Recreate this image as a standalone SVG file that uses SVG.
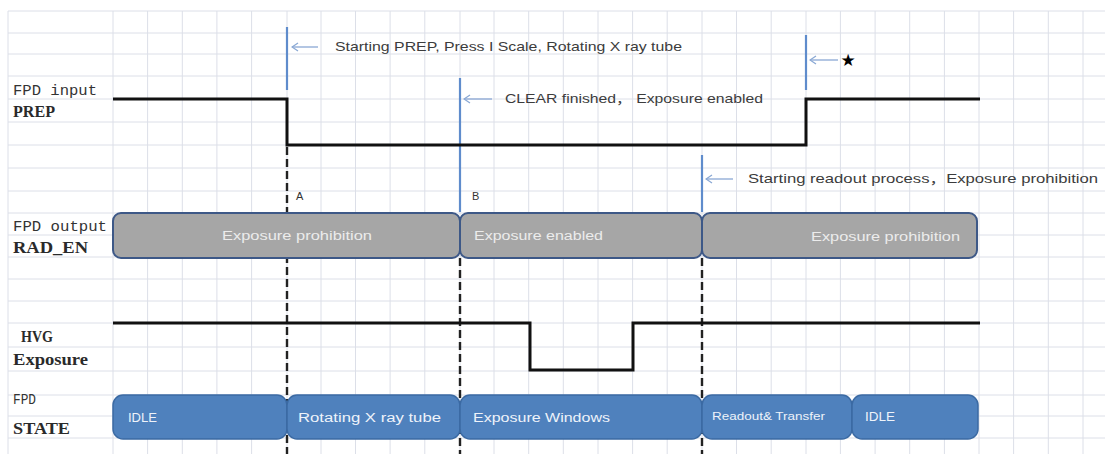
<svg xmlns="http://www.w3.org/2000/svg" width="1105" height="454" viewBox="0 0 1105 454">
<style>
.grid{stroke:#dcdfe8;stroke-width:1;fill:none}
.sig{stroke:#111;stroke-width:3;fill:none;stroke-linejoin:miter}
.mark{stroke:#5f8ccc;stroke-width:2.2;fill:none}
.dash{stroke:#222;stroke-width:2.4;stroke-dasharray:8 4;fill:none}
.arr{stroke:#8aa8d4;stroke-width:1.3;fill:none}
.ann{font-family:"Liberation Sans",Arial,"Noto Sans CJK SC",sans-serif;font-size:13px;fill:#3c3c3c}
.lblm{font-family:"Liberation Mono","Courier New",monospace;font-size:14px;fill:#333}
.lblb{font-family:"Liberation Serif","Times New Roman",serif;font-size:16px;font-weight:bold;fill:#2a2a2a}
.gbox{fill:#a6a6a6;stroke:#3d5887;stroke-width:2}
.bbox{fill:#4f81bd;stroke:#3b6aa3;stroke-width:1.5}
.gtx{font-family:"Liberation Sans",Arial,sans-serif;font-size:12.5px;fill:#ececec}
.btx{font-family:"Liberation Sans",Arial,sans-serif;font-size:12.5px;fill:#eef3fa}
.ltr{font-family:"Liberation Sans",Arial,sans-serif;font-size:11px;fill:#333}
</style>
<defs>
<marker id="ah" markerWidth="10" markerHeight="10" refX="1" refY="5" orient="auto" markerUnits="userSpaceOnUse">
<path d="M7,1 L1,5 L7,9" fill="none" stroke="#8aa8d4" stroke-width="1.3"/>
</marker>
</defs>
<rect x="0" y="0" width="1105" height="454" fill="#ffffff"/>
<g id="grid" class="grid">
<path d="M8,11V454 M113,11V454 M147.6,11V454 M182.3,11V454 M216.9,11V454 M251.6,11V454 M287,11V454 M321,11V454 M355.5,11V454 M390.1,11V454 M424.8,11V454 M460,11V454 M494,11V454 M528.7,11V454 M563.3,11V454 M598,11V454 M632.6,11V454 M667.2,11V454 M702,11V454 M736.5,11V454 M771.2,11V454 M806,11V454 M840.4,11V454 M875.1,11V454 M909.7,11V454 M944.4,11V454 M979,11V454 M1013.6,11V454 M1048.3,11V454 M1083,11V454"/>
<path d="M8,11H1105 M8,33H1105 M8,54H1105 M8,76H1105 M8,99H1105 M8,122H1105 M8,145H1105 M8,168H1105 M8,191H1105 M8,213H1105 M8,235H1105 M8,257H1105 M8,279H1105 M8,301H1105 M8,323H1105 M8,347H1105 M8,371H1105 M8,395H1105 M8,416H1105 M8,438H1105"/>
</g>
<g id="labels">
<text class="lblm" x="13" y="95" textLength="84" lengthAdjust="spacingAndGlyphs">FPD input</text>
<text class="lblb" x="13" y="117" textLength="42" lengthAdjust="spacingAndGlyphs">PREP</text>
<text class="lblm" x="13" y="231" textLength="94" lengthAdjust="spacingAndGlyphs">FPD output</text>
<text class="lblb" x="13" y="253" textLength="75" lengthAdjust="spacingAndGlyphs">RAD_EN</text>
<text class="lblb" x="21" y="342" textLength="32" lengthAdjust="spacingAndGlyphs">HVG</text>
<text class="lblb" x="13" y="365" textLength="75" lengthAdjust="spacingAndGlyphs">Exposure</text>
<text class="lblm" x="13" y="404" textLength="23" lengthAdjust="spacingAndGlyphs">FPD</text>
<text class="lblb" x="13" y="434" textLength="57" lengthAdjust="spacingAndGlyphs">STATE</text>
</g>
<g id="connectors">
<path class="dash" d="M287,147V454"/>
<path class="dash" d="M460,258V454"/>
<path class="dash" d="M702,258V454"/>
<path class="mark" d="M287,27V90"/>
<path class="mark" d="M460,78V212"/>
<path class="mark" d="M806,35V90"/>
<path class="mark" d="M702,155V212"/>
<path class="arr" d="M292,47H318" marker-start="url(#ah)"/>
<path class="arr" d="M464,99H492" marker-start="url(#ah)"/>
<path class="arr" d="M810,60H838" marker-start="url(#ah)"/>
<path class="arr" d="M706,179H733" marker-start="url(#ah)"/>
</g>
<g id="sig-prep">
<path class="sig" d="M113,99H287V145H806V99H980"/>
</g>
<g id="sig-hvg">
<path class="sig" d="M113,323H530V370H633V323H980"/>
</g>
<g id="ann1"><text class="ann" x="335" y="51" textLength="347" lengthAdjust="spacingAndGlyphs">Starting PREP, Press I Scale, Rotating X ray  tube</text></g>
<g id="ann2"><text class="ann" x="505" y="103" textLength="258" lengthAdjust="spacingAndGlyphs">CLEAR finished， Exposure enabled</text></g>
<g id="ann3"><text class="ann" x="748" y="183" textLength="350" lengthAdjust="spacingAndGlyphs">Starting readout process，Exposure prohibition</text></g>
<g id="star"><text x="848" y="66" text-anchor="middle" style="font-family:'DejaVu Sans',sans-serif;font-size:17px;fill:#000">★</text></g>
<g id="labelA"><text class="ltr" x="296" y="200">A</text></g>
<g id="labelB"><text class="ltr" x="472" y="200">B</text></g>
<g id="rad1"><rect class="gbox" x="113" y="213" width="347" height="45" rx="8"/><text class="gtx" x="222" y="240" textLength="150" lengthAdjust="spacingAndGlyphs">Exposure prohibition</text></g>
<g id="rad2"><rect class="gbox" x="460" y="213" width="242" height="45" rx="8"/><text class="gtx" x="474" y="240" textLength="129" lengthAdjust="spacingAndGlyphs">Exposure enabled</text></g>
<g id="rad3"><rect class="gbox" x="702" y="213" width="275" height="45" rx="8"/><text class="gtx" x="811" y="241" textLength="149" lengthAdjust="spacingAndGlyphs">Exposure prohibition</text></g>
<g id="st1"><rect class="bbox" x="113" y="395" width="174" height="44" rx="10"/><text class="btx" x="128" y="422" textLength="29" lengthAdjust="spacingAndGlyphs">IDLE</text></g>
<g id="st2"><rect class="bbox" x="287" y="395" width="173" height="44" rx="10"/><text class="btx" x="298" y="422" textLength="143" lengthAdjust="spacingAndGlyphs">Rotating X ray  tube</text></g>
<g id="st3"><rect class="bbox" x="460" y="395" width="242" height="44" rx="10"/><text class="btx" x="473" y="422" textLength="137" lengthAdjust="spacingAndGlyphs">Exposure Windows</text></g>
<g id="st4"><rect class="bbox" x="702" y="395" width="150" height="44" rx="10"/><text class="btx" x="712" y="420" style="font-size:10.5px" textLength="113" lengthAdjust="spacingAndGlyphs">Readout&amp; Transfer</text></g>
<g id="st5"><rect class="bbox" x="852" y="395" width="126" height="44" rx="10"/><text class="btx" x="865" y="421" textLength="30" lengthAdjust="spacingAndGlyphs">IDLE</text></g>
</svg>
